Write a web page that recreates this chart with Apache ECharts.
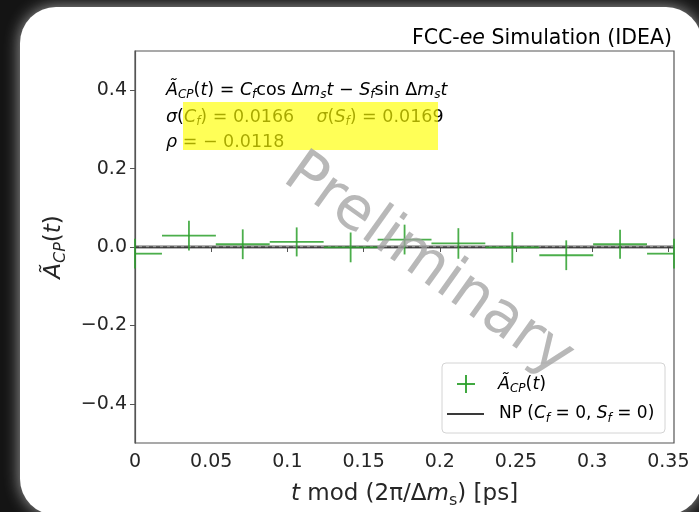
<!DOCTYPE html>
<html>
<head>
<meta charset="utf-8">
<script src="https://cdn.jsdelivr.net/npm/echarts@6/dist/echarts.min.js"></script>
<style>
  html, body { margin: 0; padding: 0; background: #141414; }
  #chart { width: 699px; height: 512px; }
</style>
</head>
<body>
<div id="chart"></div>
<script>
// Folded decay-time asymmetry, one oscillation period 2π/Δm_s (ps)
const period = 0.3537;
const halfBin = 0.01768;
const binCenters = [0, 0.0354, 0.0707, 0.1061, 0.1415, 0.1769, 0.2122, 0.2476, 0.2830, 0.3183, 0.3537];
const asymmetry  = [-0.017, 0.029, 0.007, 0.013, -0.001, 0.019, 0.009, -0.001, -0.021, 0.007, -0.017];
const asymError  = [0.038, 0.038, 0.038, 0.037, 0.038, 0.038, 0.039, 0.039, 0.038, 0.037, 0.038];
// No-CP-violation expectation (C_f = 0, S_f = 0)
const npX = [0, period];
const npY = [0, 0];
const xTicks = [0, 0.05, 0.1, 0.15, 0.2, 0.25, 0.3, 0.35];
const yTicks = [-0.4, -0.2, 0, 0.2, 0.4];

const FONT = 'DejaVu Sans';
const INK = '#262626';
const GREEN = '#2ca02c';

const pointData = binCenters.map((x, i) => [x, asymmetry[i], asymError[i]]);
const npData = npX.map((x, i) => [x, npY[i]]);

const mathRich = (size) => ({
  n:    { fontFamily: FONT, fontSize: size, color: INK },
  i:    { fontFamily: FONT, fontSize: size, color: INK, fontStyle: 'italic' },
  sub:  { fontFamily: FONT, fontSize: Math.round(size * 0.7), color: INK, fontStyle: 'italic', padding: [Math.round(size * 0.55), 0, 0, 0] },
  subn: { fontFamily: FONT, fontSize: Math.round(size * 0.7), color: INK, padding: [Math.round(size * 0.55), 0, 0, 0] }
});

const chart = echarts.init(document.getElementById('chart'), null, { renderer: 'canvas' });

chart.setOption({
  backgroundColor: '#141414',
  animation: false,
  grid: {
    left: 135, right: 25, top: 51, bottom: 69,
    containLabel: false, outerBoundsMode: 'none',
    show: true, borderColor: '#555', borderWidth: 1.2, backgroundColor: 'transparent'
  },
  xAxis: {
    type: 'value', min: 0, max: period,
    axisLine: { show: true, lineStyle: { color: '#555', width: 1.2 } },
    axisTick: { show: true, length: 5, lineStyle: { color: '#555' }, customValues: xTicks },
    axisLabel: {
      customValues: xTicks, fontFamily: FONT, fontSize: 19, color: INK, margin: 10,
      formatter: v => String(+(+v).toFixed(2))
    },
    splitLine: { show: false },
    name: '{i|t}{n| mod (2π/Δ}{i|m}{subn|s}{n|) [ps]}',
    nameLocation: 'middle', nameGap: 37,
    nameTextStyle: { fontFamily: FONT, fontSize: 23, color: INK, rich: mathRich(23) }
  },
  yAxis: {
    type: 'value', min: -0.5, max: 0.5,
    axisLine: { show: true, lineStyle: { color: '#555', width: 1.2 } },
    axisTick: { show: true, length: 5, lineStyle: { color: '#555' }, customValues: yTicks },
    axisLabel: {
      customValues: yTicks, fontFamily: FONT, fontSize: 19, color: INK, margin: 8,
      formatter: v => (+v).toFixed(1).replace('-', '\u2212')
    },
    splitLine: { show: false },
    name: '{i|Ã}{sub|CP}{n|(}{i|t}{n|)}',
    nameLocation: 'middle', nameGap: 66, nameRotate: 90,
    nameTextStyle: { fontFamily: FONT, fontSize: 23, color: INK, rich: mathRich(23) }
  },
  series: [
    {
      name: 'NP', type: 'line', data: npData, symbol: 'none', z: 3,
      lineStyle: { color: 'rgba(70,70,70,0.55)', width: 3.5 }
    },
    {
      name: 'NP-core', type: 'line', data: npData, symbol: 'none', z: 4,
      lineStyle: { color: '#2a2a2a', width: 1.2, type: [4, 3] }
    },
    {
      name: 'asymmetry', type: 'custom', z: 5,
      data: pointData,
      renderItem(params, api) {
        const x = api.value(0), y = api.value(1), e = api.value(2);
        const x0 = Math.max(x - halfBin, 0), x1 = Math.min(x + halfBin, period);
        const pL = api.coord([x0, y]), pR = api.coord([x1, y]);
        const pT = api.coord([x, y + e]), pB = api.coord([x, y - e]);
        const style = { stroke: GREEN, lineWidth: 1.8, opacity: 0.85 };
        return {
          type: 'group',
          children: [
            { type: 'line', shape: { x1: pL[0], y1: pL[1], x2: pR[0], y2: pR[1] }, style },
            { type: 'line', shape: { x1: pT[0], y1: pT[1], x2: pB[0], y2: pB[1] }, style }
          ]
        };
      }
    }
  ],
  graphic: [
    // white slide panel
    {
      type: 'rect', z: -100, silent: true,
      shape: { x: 20, y: 7, width: 682, height: 508, r: 36 },
      style: { fill: '#ffffff', shadowBlur: 16, shadowColor: 'rgba(190,190,190,0.85)' }
    },
    // experiment label
    {
      type: 'text', z: 100, x: 672, y: 39,
      style: {
        text: '{n|FCC-}{i|ee}{n| Simulation (IDEA)}', align: 'right', verticalAlign: 'middle',
        rich: mathRich(20.5)
      }
    },
    // fit formula and results
    {
      type: 'text', z: 100, x: 166, y: 90,
      style: {
        text: '{i|Ã}{sub|CP}{n|(}{i|t}{n|) = }{i|C}{sub|f}{n|cos Δ}{i|m}{sub|s}{i|t}{n| − }{i|S}{sub|f}{n|sin Δ}{i|m}{sub|s}{i|t}',
        verticalAlign: 'middle', rich: mathRich(17.5)
      }
    },
    {
      type: 'text', z: 100, x: 166, y: 117,
      style: {
        text: '{i|σ}{n|(}{i|C}{sub|f}{n|) = 0.0166    }{i|σ}{n|(}{i|S}{sub|f}{n|) = 0.0169}',
        verticalAlign: 'middle', rich: mathRich(17.5)
      }
    },
    {
      type: 'text', z: 100, x: 166, y: 142,
      style: {
        text: '{i|ρ}{n| = − 0.0118}',
        verticalAlign: 'middle', rich: mathRich(17.5)
      }
    },
    // marker highlight over the numbers
    {
      type: 'rect', z: 101, silent: true,
      shape: { x: 183, y: 102, width: 255, height: 48 },
      style: { fill: 'rgba(255,255,0,0.66)' }
    },
    // legend
    {
      type: 'group', z: 90,
      children: [
        {
          type: 'rect', z: 90,
          shape: { x: 442, y: 363, width: 223, height: 70, r: 4 },
          style: { fill: 'rgba(255,255,255,0.85)', stroke: '#d4d4d4', lineWidth: 1 }
        },
        { type: 'line', z: 91, shape: { x1: 457, y1: 384, x2: 475, y2: 384 }, style: { stroke: GREEN, lineWidth: 1.8 } },
        { type: 'line', z: 91, shape: { x1: 466, y1: 375, x2: 466, y2: 393 }, style: { stroke: GREEN, lineWidth: 1.8 } },
        {
          type: 'text', z: 91, x: 498, y: 384,
          style: { text: '{i|Ã}{sub|CP}{n|(}{i|t}{n|)}', verticalAlign: 'middle', rich: mathRich(17.5) }
        },
        { type: 'line', z: 91, shape: { x1: 447, y1: 414, x2: 484, y2: 414 }, style: { stroke: '#3a3a3a', lineWidth: 2 } },
        {
          type: 'text', z: 91, x: 499, y: 414,
          style: { text: '{n|NP (}{i|C}{sub|f}{n| = 0, }{i|S}{sub|f}{n| = 0)}', verticalAlign: 'middle', rich: mathRich(17) }
        }
      ]
    },
    // watermark
    {
      type: 'text', z: 120, x: 428, y: 266, rotation: -0.62, silent: true,
      style: {
        text: 'Preliminary', align: 'center', verticalAlign: 'middle',
        fontFamily: FONT, fontSize: 60, fill: 'rgba(160,160,160,0.75)'
      }
    }
  ]
});
</script>
</body>
</html>
